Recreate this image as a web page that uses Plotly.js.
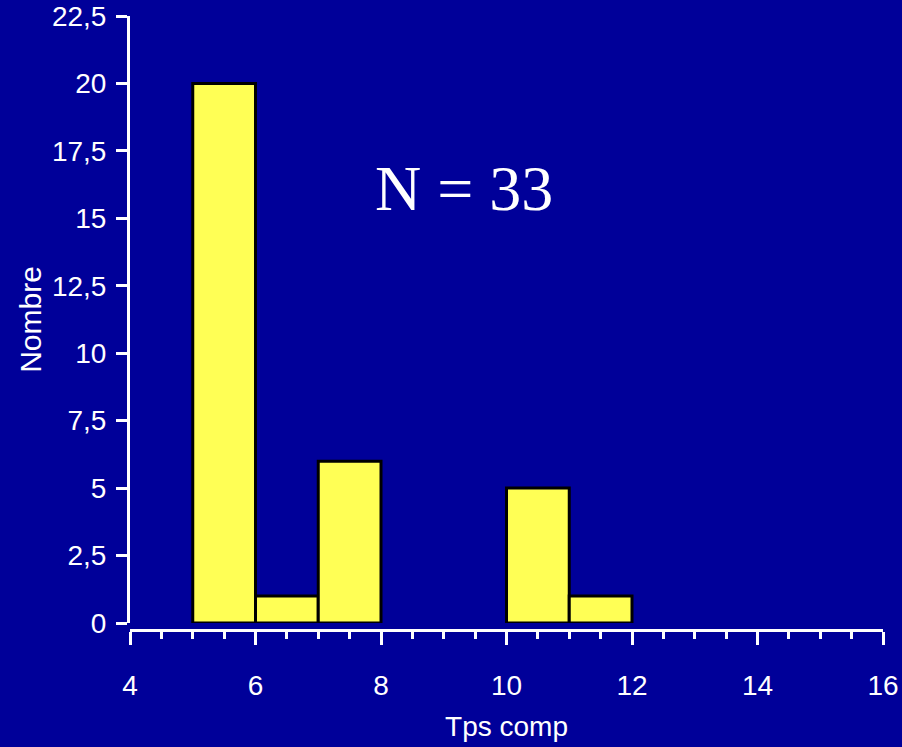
<!DOCTYPE html>
<html>
<head>
<meta charset="utf-8">
<script src="https://cdn.plot.ly/plotly-3.0.1.min.js"></script>
<style>
  html, body { margin: 0; padding: 0; background: #000099; }
  #chart { width: 902px; height: 747px; }
</style>
</head>
<body>
<div id="chart"></div>
<script>
// Histogram bins: left edge of each class (width 1) and its count
const binStart = [5, 6, 7, 10, 11];
const binWidth = [1, 1, 1, 1, 1];
const counts = [20, 1, 6, 5, 1];

const xTitle = 'Tps comp';
const yTitle = 'Nombre';
const sampleLabel = 'N = 33';

const navy = '#000099';
const white = '#ffffff';

const trace = {
  type: 'bar',
  x: binStart,
  y: counts,
  width: binWidth,
  offset: 0,
  marker: { color: '#ffff55', line: { color: '#000000', width: 3 } },
  hoverinfo: 'x+y'
};

const tickFont = { family: 'Liberation Sans, Arial, sans-serif', size: 28, color: white };

const layout = {
  width: 902,
  height: 747,
  paper_bgcolor: navy,
  plot_bgcolor: navy,
  separators: ', ',
  showlegend: false,
  margin: { l: 130, r: 19, t: 16, b: 117 },
  bargap: 0,
  xaxis: {
    range: [4, 16],
    dtick: 2,
    tick0: 4,
    anchor: 'free',
    position: 0,
    showgrid: false,
    zeroline: false,
    showline: true,
    linecolor: white,
    linewidth: 3,
    ticks: 'outside',
    ticklen: 13,
    tickwidth: 3,
    tickcolor: white,
    ticklabelstandoff: 16,
    tickfont: tickFont,
    minor: { dtick: 0.5, tick0: 4, ticks: 'outside', ticklen: 7, tickwidth: 3, tickcolor: white, showgrid: false },
    title: { text: xTitle, font: tickFont, standoff: 16 }
  },
  yaxis: {
    range: [0, 22.5],
    dtick: 2.5,
    tick0: 0,
    domain: [0.0114, 1],
    showgrid: false,
    zeroline: false,
    showline: true,
    linecolor: white,
    linewidth: 3,
    ticks: 'outside',
    ticklen: 11,
    tickwidth: 3,
    tickcolor: white,
    ticklabelstandoff: 4,
    tickfont: tickFont,
    title: { text: yTitle, font: { family: 'Liberation Sans, Arial, sans-serif', size: 30, color: white }, standoff: 2 }
  },
  annotations: [{
    xref: 'x', yref: 'y',
    x: 9.32, y: 16.1,
    text: sampleLabel,
    showarrow: false,
    font: { family: 'Liberation Serif, Times New Roman, serif', size: 64, color: white },
    xanchor: 'center', yanchor: 'middle'
  }]
};

Plotly.newPlot('chart', [trace], layout, { displayModeBar: false, staticPlot: true });
</script>
</body>
</html>
